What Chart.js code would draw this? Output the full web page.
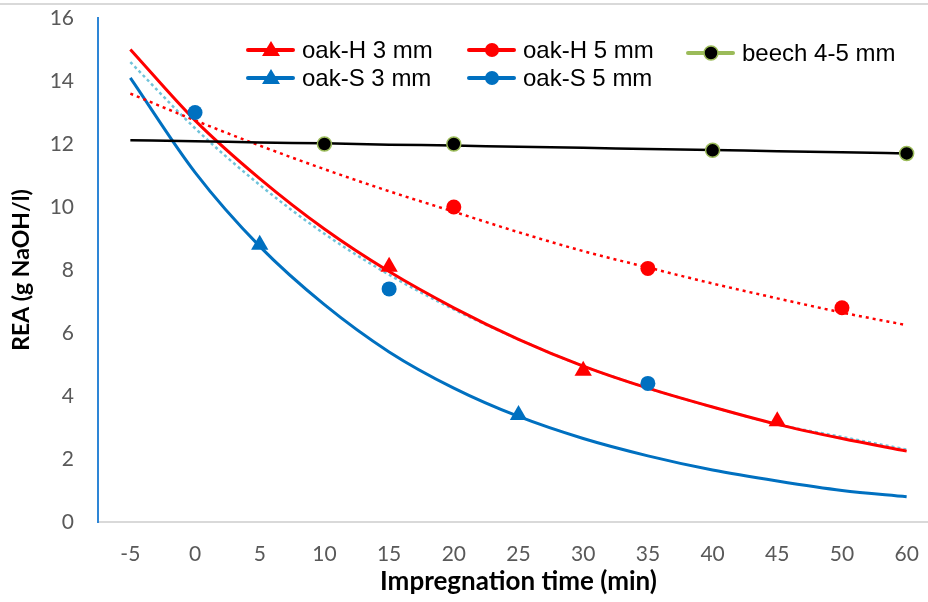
<!DOCTYPE html>
<html>
<head>
<meta charset="utf-8">
<script src="https://cdn.jsdelivr.net/npm/chart.js@4"></script>
<style>
  html, body { margin: 0; padding: 0; background: #fff; overflow: hidden; }
  #wrap { position: relative; width: 949px; height: 602px; }
  #topline { position: absolute; left: 0; top: 3px; width: 949px; height: 2px; background: #d9d9d9; }
</style>
</head>
<body>
<div id="wrap">
  <div id="topline"></div>
  <canvas id="reaChart" width="949" height="602"></canvas>
</div>
<script>
// categories (Excel line chart: 55 is missing)
const timeLabels = ['-5', '0', '5', '10', '15', '20', '25', '30', '35', '40', '45', '50', '60'];

// measured points (null = no measurement)
const oakH3 = [null, null, null, null, 8.1, null, null, 4.8, null, null, 3.2, null, null];
const oakS3 = [null, null, 8.8, null, null, null, 3.4, null, null, null, null, null, null];
const oakH5 = [null, null, null, null, null, 10.0, null, null, 8.05, null, null, 6.8, null];
const oakS5 = [null, 13.0, null, null, 7.4, null, null, null, 4.4, null, null, null, null];
const beech = [null, null, null, 12.0, null, 12.0, null, null, null, 11.8, null, null, 11.7];

// trend lines
const trendOakH3 = [15.0, 12.75, 10.9, 9.3, 7.95, 6.8, 5.8, 4.95, 4.25, 3.65, 3.1, 2.65, 2.25];
const trendOakS3 = [14.1, 11.1, 8.75, 6.9, 5.4, 4.25, 3.35, 2.65, 2.1, 1.65, 1.3, 1.0, 0.8];
const trendOakH5 = [13.6, 12.75, 11.95, 11.2, 10.5, 9.85, 9.2, 8.6, 8.08, 7.57, 7.1, 6.65, 6.25];
const trendOakS5 = [14.6, 12.5, 10.7, 9.15, 7.85, 6.75, 5.8, 4.95, 4.25, 3.65, 3.1, 2.7, 2.3];
const trendBeech = [12.12, 12.09, 12.05, 12.02, 11.98, 11.95, 11.91, 11.88, 11.84, 11.81, 11.77, 11.74, 11.7];

const yTicks = [0, 2, 4, 6, 8, 10, 12, 14, 16];

const RED = '#ff0000';
const BLUE = '#0070c0';
const LIGHTBLUE = '#70c3da';
const GREEN = '#9bbb59';

// legend drawn inside the plot, 3 columns like the Excel original
const legendItems = [
    { text: 'oak-H 3 mm', color: RED, marker: 'triangle', x: 248, y: 50 },
    { text: 'oak-H 5 mm', color: RED, marker: 'circle', x: 469, y: 50 },
    { text: 'beech 4-5 mm', color: GREEN, marker: 'circle', fill: '#000', x: 688, y: 53 },
    { text: 'oak-S 3 mm', color: BLUE, marker: 'triangle', x: 248, y: 78 },
    { text: 'oak-S 5 mm', color: BLUE, marker: 'circle', x: 469, y: 78 }
];

const legendPlugin = {
    id: 'excelLegend',
    afterDraw(chart) {
        const ctx = chart.ctx;
        ctx.save();
        legendItems.forEach(item => {
            ctx.strokeStyle = item.color;
            ctx.lineWidth = 4;
            ctx.lineCap = 'round';
            ctx.beginPath();
            ctx.moveTo(item.x, item.y);
            ctx.lineTo(item.x + 45, item.y);
            ctx.stroke();
            const cx = item.x + 23;
            ctx.fillStyle = item.fill || item.color;
            ctx.beginPath();
            if (item.marker === 'triangle') {
                ctx.moveTo(cx, item.y - 9);
                ctx.lineTo(cx + 9, item.y + 6);
                ctx.lineTo(cx - 9, item.y + 6);
                ctx.closePath();
                ctx.fill();
            } else {
                ctx.arc(cx, item.y, 7, 0, Math.PI * 2);
                ctx.fill();
                if (item.fill) {
                    ctx.lineWidth = 1.5;
                    ctx.stroke();
                }
            }
            ctx.fillStyle = '#000';
            ctx.font = '24px "Liberation Sans", Arial, sans-serif';
            ctx.textBaseline = 'middle';
            ctx.textAlign = 'left';
            ctx.fillText(item.text, item.x + 54, item.y + 1);
        });
        ctx.restore();
    }
};

function markerSet(label, data, color, style, radius, border) {
    return {
        label: label,
        data: data,
        showLine: false,
        pointStyle: style,
        pointRadius: radius,
        pointHoverRadius: radius,
        pointBackgroundColor: color,
        pointBorderColor: border || color,
        pointBorderWidth: border ? 1.5 : 0,
        borderColor: color,
        backgroundColor: color
    };
}

function trendSet(label, data, color, width, dash) {
    return {
        label: label,
        data: data,
        borderColor: color,
        borderWidth: width,
        borderDash: dash || [],
        pointRadius: 0,
        cubicInterpolationMode: 'monotone',
        fill: false
    };
}

const ctx = document.getElementById('reaChart').getContext('2d');
const reaChart = new Chart(ctx, {
    type: 'line',
    data: {
        labels: timeLabels,
        datasets: [
            markerSet('oak-H 3 mm', oakH3, RED, 'triangle', 10),
            markerSet('oak-S 3 mm', oakS3, BLUE, 'triangle', 10),
            markerSet('oak-H 5 mm', oakH5, RED, 'circle', 7.5),
            markerSet('oak-S 5 mm', oakS5, BLUE, 'circle', 7.5),
            markerSet('beech 4-5 mm', beech, '#000', 'circle', 7, GREEN),
            trendSet('trend beech', trendBeech, '#000', 2.5),
            trendSet('trend oak-H 5', trendOakH5, RED, 2.5, [3, 4]),
            trendSet('trend oak-H 3', trendOakH3, RED, 3),
            trendSet('trend oak-S 5', trendOakS5, LIGHTBLUE, 2.5, [3, 3]),
            trendSet('trend oak-S 3', trendOakS3, BLUE, 3)
        ]
    },
    options: {
        responsive: false,
        animation: false,
        layout: { padding: { top: 18, right: 0, left: 0, bottom: 0 } },
        plugins: {
            legend: { display: false },
            tooltip: { enabled: false }
        },
        scales: {
            x: {
                type: 'category',
                offset: true,
                grid: { display: false },
                border: { display: true, color: '#d9d9d9', width: 2 },
                ticks: {
                    color: '#595959',
                    font: { family: 'Lato', size: 21 },
                    padding: 12,
                    maxRotation: 0,
                    autoSkip: false
                },
                title: {
                    display: true,
                    text: 'Impregnation time (min)',
                    color: '#000',
                    font: { family: 'Lato', size: 26, weight: 'bold' },
                    padding: { top: 0, bottom: 5 }
                },
                afterFit(scale) { scale.height = 80; }
            },
            y: {
                min: 0,
                max: 16,
                afterBuildTicks(scale) {
                    scale.ticks = yTicks.map(v => ({ value: v }));
                },
                grid: { display: false },
                border: { display: true, color: '#2e86d6', width: 2 },
                ticks: {
                    color: '#595959',
                    font: { family: 'Lato', size: 21 },
                    padding: 16
                },
                title: {
                    display: true,
                    text: 'REA (g NaOH/l)',
                    color: '#000',
                    font: { family: 'Lato', size: 23, weight: 'bold' },
                    padding: { top: 8, bottom: 0 }
                },
                afterFit(scale) {
                    scale.width = 98;
                    scale.paddingTop = 0;
                    scale.paddingBottom = 0;
                }
            }
        }
    },
    plugins: [legendPlugin]
});
</script>
</body>
</html>
